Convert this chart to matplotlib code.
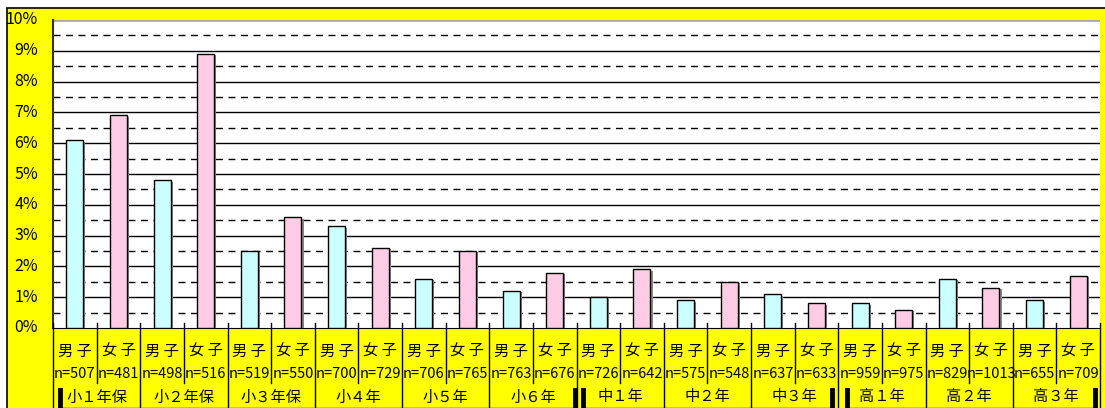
import matplotlib

matplotlib.use("Agg")
import matplotlib.pyplot as plt  # noqa: E402
from matplotlib import patheffects  # noqa: E402
from matplotlib.patches import Rectangle  # noqa: E402
from matplotlib.transforms import blended_transform_factory  # noqa: E402

plt.rcParams["font.family"] = ["Noto Sans CJK JP", "DejaVu Sans"]

GROUPS = ["小１年保", "小２年保", "小３年保", "小４年", "小５年", "小６年",
          "中１年", "中２年", "中３年", "高１年", "高２年", "高３年"]
SEXES = ["男 子", "女 子"]
COUNTS = [507, 481, 498, 516, 519, 550, 700, 729, 706, 765, 763, 676,
          726, 642, 575, 548, 637, 633, 959, 975, 829, 1013, 655, 709]
RATES = [6.1, 6.9, 4.8, 8.9, 2.5, 3.6, 3.3, 2.6, 1.6, 2.5, 1.2, 1.8,
         1.0, 1.9, 0.9, 1.5, 1.1, 0.8, 0.8, 0.6, 1.6, 1.3, 0.9, 1.7]
Y_TICKS = list(range(0, 11))

W, H = 1105, 408
BOY_COLOR = "#ccffff"
GIRL_COLOR = "#ffcce6"
YELLOW = "#ffff00"


def fy(py):
    return 1 - py / H


fig = plt.figure(figsize=(W / 100, H / 100), dpi=100, facecolor="white")
fig.add_artist(Rectangle((7 / W, -0.1), 1.2, fy(8) + 0.1, transform=fig.transFigure,
                         facecolor=YELLOW, edgecolor="black", linewidth=1.2, zorder=0))

ax = fig.add_axes([53 / W, fy(328), (1100 - 53) / W, (328 - 20) / H])
ax.set_facecolor("white")

n = len(RATES)
xs = list(range(n))
colors = [BOY_COLOR if i % 2 == 0 else GIRL_COLOR for i in xs]

for y in Y_TICKS[1:-1]:
    ax.axhline(y, color="black", linewidth=1, zorder=1)
for y in [t + 0.5 for t in Y_TICKS[:-1]]:
    ax.axhline(y, color="black", linewidth=1, linestyle=(0, (5, 4)), zorder=1)
ax.axhline(10, color="#aaaaaa", linewidth=2, zorder=1)

bars = ax.bar(xs, RATES, width=0.39, color=colors, edgecolor="black", linewidth=1, zorder=3)
for b in bars:
    b.set_path_effects([patheffects.SimplePatchShadow(offset=(1.5, -1), shadow_rgbFace="#888888", alpha=1),
                        patheffects.Normal()])

ax.set_xlim(-0.5, n - 0.5)
ax.set_ylim(0, 10)
ax.set_xticks([])
ax.set_yticks([])
for side in ["top", "right"]:
    ax.spines[side].set_visible(False)
ax.spines["left"].set_color("#333333")
ax.spines["left"].set_linewidth(1.5)
ax.spines["bottom"].set_color("black")

for y in Y_TICKS:
    fig.text(38 / W, fy(328 - y * 30.8), f"{y}%", ha="right", va="center", fontsize=11.5)

trans = blended_transform_factory(ax.transData, fig.transFigure)

# separators below the axis
for k in range(n + 1):
    x = k - 0.5
    bottom = fy(408) if k % 2 == 0 else fy(383)
    ax.plot([x, x], [fy(323), bottom], transform=trans, color="black", linewidth=1,
            clip_on=False, zorder=4)

for i in xs:
    ax.text(i, fy(351), SEXES[i % 2], transform=trans, ha="center", va="center", fontsize=11)
    ax.text(i, fy(374), f"n={COUNTS[i]}", transform=trans, ha="center", va="center", fontsize=10.5)

for g, label in enumerate(GROUPS):
    ax.text(2 * g + 0.5, fy(397), label, transform=trans, ha="center", va="center", fontsize=11)

# school level brackets
for x0, x1 in [(60, 575), (583, 832), (847, 1095)]:
    for x in (x0, x1):
        fig.add_artist(plt.Line2D([x / W, x / W], [fy(390), fy(408)], color="black", linewidth=3.5))
    fig.add_artist(plt.Line2D([x0 / W, x1 / W], [fy(407.5), fy(407.5)], color="black", linewidth=1))

fig.savefig("out.png", dpi=100, facecolor=fig.get_facecolor())
